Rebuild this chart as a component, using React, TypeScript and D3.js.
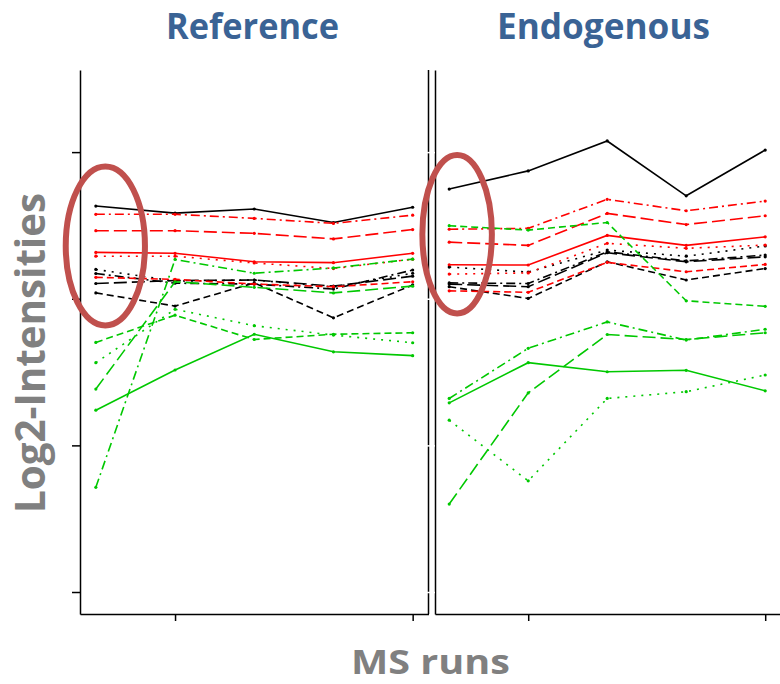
import React, { useEffect, useRef } from 'react';
import * as d3 from 'd3';

// five MS runs per panel, values are log2 intensities
const runs = [1, 2, 3, 4, 5];
const xTicks = [2, 5];
const yTicks = [15, 20, 25, 30];

// Reference panel
const refBlackSolid = [28.16, 27.92, 28.06, 27.6, 28.12];
const refBlackDotted = [26.0, 25.6, 25.64, 25.4, 25.87];
const refBlackDashDot = [25.86, 25.53, 25.5, 25.33, 25.98];
const refBlackLongDash = [25.52, 25.62, 25.64, 25.43, 25.77];
const refBlackShortDash = [25.2, 24.75, 25.54, 24.35, 25.47];
const refRedDashDot = [27.88, 27.88, 27.74, 27.57, 27.85];
const refRedLongDash = [27.32, 27.32, 27.23, 27.04, 27.36];
const refRedSolid = [26.58, 26.55, 26.26, 26.23, 26.55];
const refRedDotted = [26.45, 26.45, 26.22, 26.03, 26.35];
const refRedShortDash = [25.73, 25.66, 25.5, 25.41, 25.58];
const refGreenDashDot = [18.57, 26.34, 25.87, 26.05, 26.35];
const refGreenLongDash = [21.92, 25.58, 25.39, 25.2, 25.43];
const refGreenShortDash = [23.51, 24.44, 23.61, 23.79, 23.84];
const refGreenDotted = [22.82, 24.64, 24.08, 23.76, 23.5];
const refGreenSolid = [21.2, 22.57, 23.79, 23.19, 23.06];

// Endogenous panel
const endBlackSolid = [28.74, 29.36, 30.38, 28.51, 30.07];
const endBlackDotted = [26.08, 25.91, 26.66, 26.45, 26.8];
const endBlackDashDot = [25.54, 25.52, 26.6, 26.29, 26.49];
const endBlackLongDash = [25.5, 25.41, 26.57, 26.26, 26.43];
const endBlackShortDash = [25.41, 25.01, 26.26, 25.64, 26.03];
const endRedDashDot = [27.37, 27.4, 28.39, 28.0, 28.33];
const endRedLongDash = [26.93, 26.82, 27.91, 27.53, 27.83];
const endRedSolid = [26.16, 26.15, 27.16, 26.82, 27.11];
const endRedDotted = [25.84, 25.88, 26.89, 26.72, 26.83];
const endRedShortDash = [25.27, 25.22, 26.24, 25.92, 26.17];
const endGreenDashDot = [21.6, 23.31, 24.21, 23.59, 23.96];
const endGreenLongDash = [18.0, 21.79, 23.78, 23.61, 23.84];
const endGreenShortDash = [27.49, 27.34, 27.6, 24.93, 24.74];
const endGreenDotted = [20.86, 18.79, 21.6, 21.83, 22.4];
const endGreenSolid = [21.45, 22.82, 22.51, 22.56, 21.86];

const colors = { black: '#000000', red: '#ff0000', green: '#00c800' };
const dashes = {
  solid: null,
  dotted: '2,6',
  dashDot: '9,4,2,4',
  longDash: '13,5',
  shortDash: '7,4',
};

type Series = { values: number[]; color: string; dash: string | null };
const mk = (values: number[], color: string, dash: string | null): Series => ({ values, color, dash });

const referenceSeries: Series[] = [
  mk(refBlackSolid, colors.black, dashes.solid),
  mk(refBlackDotted, colors.black, dashes.dotted),
  mk(refBlackDashDot, colors.black, dashes.dashDot),
  mk(refBlackLongDash, colors.black, dashes.longDash),
  mk(refBlackShortDash, colors.black, dashes.shortDash),
  mk(refRedDashDot, colors.red, dashes.dashDot),
  mk(refRedLongDash, colors.red, dashes.longDash),
  mk(refRedSolid, colors.red, dashes.solid),
  mk(refRedDotted, colors.red, dashes.dotted),
  mk(refRedShortDash, colors.red, dashes.shortDash),
  mk(refGreenDashDot, colors.green, dashes.dashDot),
  mk(refGreenLongDash, colors.green, dashes.longDash),
  mk(refGreenShortDash, colors.green, dashes.shortDash),
  mk(refGreenDotted, colors.green, dashes.dotted),
  mk(refGreenSolid, colors.green, dashes.solid),
];

const endogenousSeries: Series[] = [
  mk(endBlackSolid, colors.black, dashes.solid),
  mk(endBlackDotted, colors.black, dashes.dotted),
  mk(endBlackDashDot, colors.black, dashes.dashDot),
  mk(endBlackLongDash, colors.black, dashes.longDash),
  mk(endBlackShortDash, colors.black, dashes.shortDash),
  mk(endRedDashDot, colors.red, dashes.dashDot),
  mk(endRedLongDash, colors.red, dashes.longDash),
  mk(endRedSolid, colors.red, dashes.solid),
  mk(endRedDotted, colors.red, dashes.dotted),
  mk(endRedShortDash, colors.red, dashes.shortDash),
  mk(endGreenDashDot, colors.green, dashes.dashDot),
  mk(endGreenLongDash, colors.green, dashes.longDash),
  mk(endGreenShortDash, colors.green, dashes.shortDash),
  mk(endGreenDotted, colors.green, dashes.dotted),
  mk(endGreenSolid, colors.green, dashes.solid),
];

const width = 780;
const height = 684;
const titleColor = '#3a6395';
const labelColor = '#808080';
const circleColor = '#c0504d';
const font = '"Open Sans", Lato, sans-serif';

const App = () => {
  const chartRef = useRef<SVGSVGElement>(null);

  useEffect(() => {
    const svg = d3.select(chartRef.current);
    svg.selectAll('*').remove();

    const y = d3.scaleLinear().domain([14.25, 32.8]).range([614, 70]);

    const panels = [
      {
        title: 'Reference',
        titleX: 252.5,
        titleLen: 173,
        series: referenceSeries,
        x: d3.scaleLinear().domain([0.8, 5.2]).range([80, 428.5]),
        ring: { run: 1.12, value: 26.8, rx: 0.5, ry: 2.71 },
        tickColor: '#000',
      },
      {
        title: 'Endogenous',
        titleX: 603.5,
        titleLen: 213,
        series: endogenousSeries,
        x: d3.scaleLinear().domain([0.82, 5.2]).range([435, 781]),
        ring: { run: 1.1, value: 27.2, rx: 0.44, ry: 2.7 },
        tickColor: '#fff',
      },
    ];

    // right border of the first panel
    svg.append('line')
      .attr('x1', 428.5).attr('x2', 428.5)
      .attr('y1', 70).attr('y2', 614)
      .attr('stroke', '#000')
      .attr('stroke-width', 1.5);

    panels.forEach(p => {
      const x = p.x;
      const x0 = x.range()[0];

      const yAxis = svg.append('g')
        .attr('transform', `translate(${x0},0)`)
        .call(d3.axisLeft(y).tickValues(yTicks).tickSize(8).tickSizeOuter(0).tickFormat(() => ''));
      yAxis.select('.domain').attr('stroke', '#000').attr('stroke-width', 1.5);
      yAxis.selectAll('.tick line').attr('stroke', p.tickColor).attr('stroke-width', 1.5);
      if (p.tickColor === '#fff') yAxis.selectAll('.tick line').attr('x2', -10);

      const xAxis = svg.append('g')
        .attr('transform', `translate(0,614)`)
        .call(d3.axisBottom(x).tickValues(xTicks).tickSize(7).tickSizeOuter(0).tickFormat(() => ''));
      xAxis.select('.domain').attr('stroke', '#000').attr('stroke-width', 1.5);
      xAxis.selectAll('.tick line').attr('stroke', '#000').attr('stroke-width', 1.5);

      const line = d3.line<number>()
        .x((_, i) => x(runs[i]))
        .y(d => y(d));

      p.series.forEach(s => {
        svg.append('path')
          .datum(s.values)
          .attr('fill', 'none')
          .attr('stroke', s.color)
          .attr('stroke-width', 1.6)
          .attr('stroke-dasharray', s.dash)
          .attr('d', line);

        svg.append('g')
          .selectAll('circle')
          .data(s.values)
          .join('circle')
          .attr('cx', (_, i) => x(runs[i]))
          .attr('cy', d => y(d))
          .attr('r', 1.6)
          .attr('fill', s.color);
      });

      // highlight of the first run
      const r = p.ring;
      svg.append('ellipse')
        .attr('cx', x(r.run))
        .attr('cy', y(r.value))
        .attr('rx', x(r.run + r.rx) - x(r.run))
        .attr('ry', y(r.value - r.ry) - y(r.value))
        .attr('fill', 'none')
        .attr('stroke', circleColor)
        .attr('stroke-width', 6);

      svg.append('text')
        .attr('x', p.titleX)
        .attr('y', 39)
        .attr('text-anchor', 'middle')
        .attr('textLength', p.titleLen)
        .attr('lengthAdjust', 'spacingAndGlyphs')
        .style('font-family', font)
        .style('font-size', '36px')
        .style('font-weight', 'bold')
        .attr('fill', titleColor)
        .text(p.title);
    });

    svg.append('text')
      .attr('x', 430.5)
      .attr('y', 674)
      .attr('text-anchor', 'middle')
      .attr('textLength', 159)
      .attr('lengthAdjust', 'spacingAndGlyphs')
      .style('font-family', font)
      .style('font-size', '34px')
      .style('font-weight', 'bold')
      .attr('fill', labelColor)
      .text('MS runs');

    svg.append('text')
      .attr('transform', 'translate(45,353) rotate(-90)')
      .attr('text-anchor', 'middle')
      .attr('textLength', 320)
      .attr('lengthAdjust', 'spacingAndGlyphs')
      .style('font-family', font)
      .style('font-size', '41px')
      .style('font-weight', 'bold')
      .attr('fill', labelColor)
      .text('Log2-Intensities');

    return () => {
      d3.select(chartRef.current).selectAll('*').remove();
    };
  }, []);

  return (
    <svg
      ref={chartRef}
      width={width}
      height={height}
      style={{ position: 'absolute', left: 0, top: 0, background: '#fff' }}
    ></svg>
  );
};

export default App;
